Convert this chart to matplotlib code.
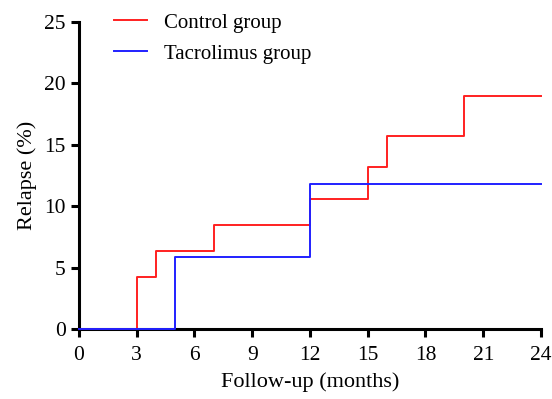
import matplotlib.pyplot as plt

plt.rcParams['font.family'] = ['Liberation Serif', 'DejaVu Serif']

# months and cumulative relapse (%)
control_t = [0, 3, 4, 7, 12, 15, 16, 20, 24]
control_y = [0, 4.26, 6.4, 8.5, 10.6, 13.2, 15.7, 19.0, 19.0]
tacro_t = [0, 5, 12, 24]
tacro_y = [0, 5.9, 11.8, 11.8]

xticks = [0, 3, 6, 9, 12, 15, 18, 21, 24]
yticks = [0, 5, 10, 15, 20, 25]

fig = plt.figure(figsize=(5.52, 3.99), dpi=100)
ax = fig.add_axes([0.143, 0.175, 0.837, 0.77])

ax.step(control_t, control_y, where='post', color='#ff2020', lw=1.4,
        label='Control group', clip_on=False, zorder=3)
ax.step(tacro_t, tacro_y, where='post', color='#2020ff', lw=1.4,
        label='Tacrolimus group', clip_on=False, zorder=3)

ax.set_xlim(0, 24)
ax.set_ylim(0, 25)
ax.set_xticks(xticks)
ax.set_yticks(yticks)
ax.tick_params(labelsize=15.5, width=2.2, length=6, direction='out', colors='black')
ax.tick_params(axis='x', pad=6)
for side in ['top', 'right']:
    ax.spines[side].set_visible(False)
for side in ['left', 'bottom']:
    ax.spines[side].set_linewidth(2.2)

ax.set_xlabel('Follow-up (months)', fontsize=16, labelpad=5)
ax.set_ylabel('Relapse (%)', fontsize=16, labelpad=5)

ax.legend(loc='upper left', bbox_to_anchor=(0.035, 1.09), frameon=False,
          fontsize=15, handlelength=1.6, handletextpad=0.8, labelspacing=0.55)

fig.savefig('out.png')
